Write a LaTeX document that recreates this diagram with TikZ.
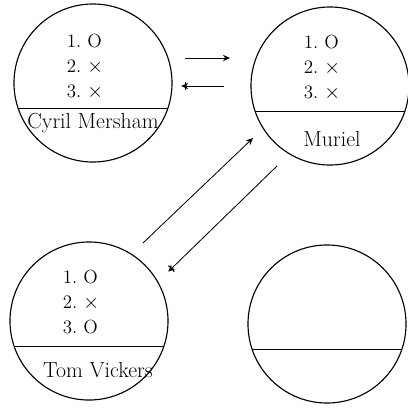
\documentclass[tikz,border=0pt]{standalone}
\usetikzlibrary{arrows.meta}

\begin{document}
\begin{tikzpicture}[x=0.025cm, y=-0.025cm, line width=0.8pt,
    player/.style={draw, circle, minimum size=3.95cm, inner sep=0pt, outer sep=0pt},
    moves/.style={align=left, inner sep=0pt, font=\fontsize{13.5}{17.8}\selectfont},
    tag/.style={inner sep=0pt, font=\fontsize{15.5}{18}\selectfont},
    send/.style={line width=0.6pt, -{Stealth[length=5pt,width=4.5pt]}},
    reply/.style={line width=0.6pt, -{Stealth[length=5pt,width=4.5pt,sep=-3.5pt]Bar[width=6pt,line width=0.8pt]}}]
        \useasboundingbox (0,0) rectangle (408,408);

        \node[player] (cyril) at (93,83) {};
        \node[player] (muriel) at (330,86) {};
        \node[player] (tom) at (89,321) {};
        \node[player] (blank) at (327,324) {};

        \foreach \p in {cyril, muriel, tom, blank}
            \draw (\p.199.2) -- (\p.-19.2);

        \node[moves] (cyrilmoves) at ([shift={(-8,-16)}]cyril.center) {1.\ O\\2.\ $\times$\\3.\ $\times$};
        \node[moves] (murielmoves) at ([shift={(-8,-18)}]muriel.center) {1.\ O\\2.\ $\times$\\3.\ $\times$};
        \node[moves] (tommoves) at ([shift={(-8,-19)}]tom.center) {1.\ O\\2.\ $\times$\\3.\ O};

        \node[tag] (cyrilname) at ([shift={(0,40)}]cyril.center) {Cyril Mersham};
        \node[tag] (murielname) at ([shift={(2,53)}]muriel.center) {Muriel};
        \node[tag] (tomname) at ([shift={(9,49)}]tom.center) {Tom Vickers};

        \coordinate (c1) at (185,58);
        \coordinate (m1) at (230,58);
        \coordinate (m2) at (224,86);
        \coordinate (c2) at (185,86);
        \coordinate (t1) at (143,243);
        \coordinate (m3) at (253,138);
        \coordinate (m4) at (277,166);
        \coordinate (t2) at (171,269);

        \draw[send] (c1) -- (m1);
        \draw[reply] (m2) -- (c2);
        \draw[send] (t1) -- (m3);
        \draw[reply] (m4) -- (t2);
    \end{tikzpicture}
\end{document}
